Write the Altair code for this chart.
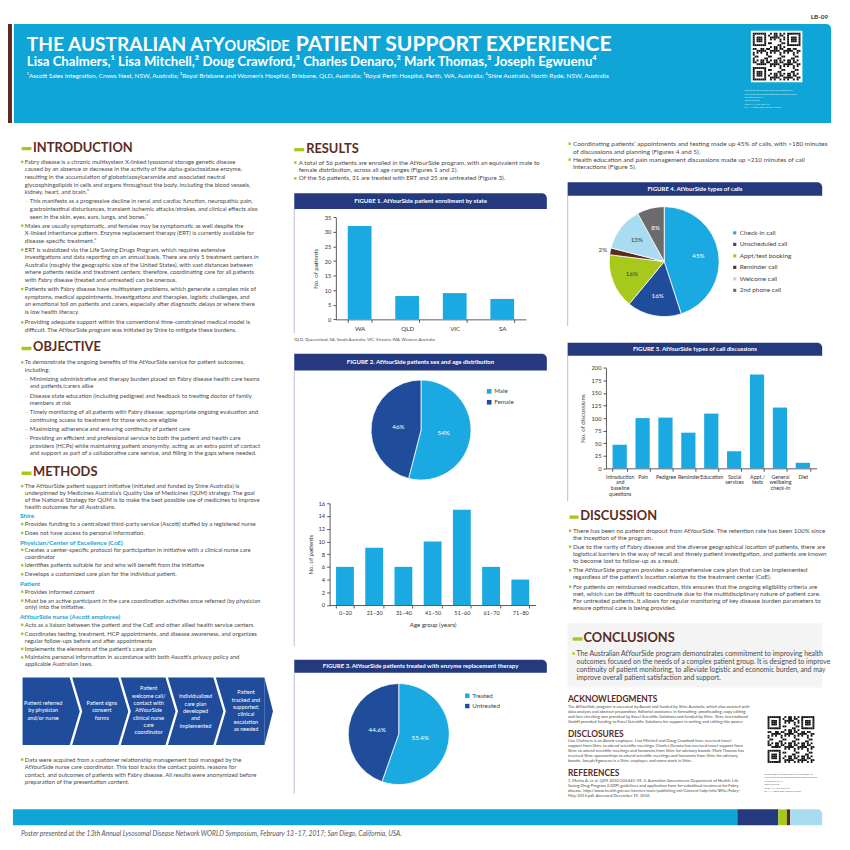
import altair as alt
import pandas as pd

# ---------------- chart values ----------------
states = ["WA", "QLD", "VIC", "SA"]
state_patients = [32, 8, 9, 7]

sexes = ["Male", "Female"]
sex_pct = [54, 46]

age_groups = ["0–20", "21–30", "31–40", "41–50", "51–60", "61–70", "71–80"]
age_patients = [6, 9, 6, 10, 15, 6, 4]

ert_status = ["Treated", "Untreated"]
ert_pct = [55.4, 44.6]

call_types = ["Check-in call", "Unscheduled call", "Appt/test booking",
              "Reminder call", "Welcome call", "2nd phone call"]
call_pct = [45, 16, 16, 2, 13, 8]

topics = ["Introduction and baseline questions", "Pain", "Pedigree", "Reminder",
          "Education", "Social services", "Appt./tests", "General wellbeing check-in", "Diet"]
topic_counts = [47, 100, 101, 71, 109, 34, 187, 121, 11]
topic_label_lines = [["Introduction", "and", "baseline", "questions"], ["Pain"], ["Pedigree"],
                     ["Reminder"], ["Education"], ["Social", "services"], ["Appt./", "tests"],
                     ["General", "wellbeing", "check-in"], ["Diet"]]

# ---------------- palette / fonts ----------------
BANNER = "#0fa6d7"
NAVY = "#24397e"
DARKBLUE = "#1f4c9b"
LIGHTBLUE = "#1ba9e1"
PALEBLUE = "#a9dbf1"
GREEN = "#a6c91b"
BROWN = "#5b2b22"
GREY = "#6b6b6d"
TEXT = "#4a4a4a"
SUBHEAD = "#199fd6"
AXIS = "#333333"
FONT = "Lato"

W = 842


def sx():
    return alt.Scale(domain=[0, 850], range=[-8, 842], nice=False, zero=False)


def X(f="x"):
    return alt.X(f + ":Q", scale=sx(), axis=None)


def Y(f="y"):
    return alt.Y(f + ":Q", scale=sx(), axis=None)


layers = []

# ---------------- rectangles ----------------
rects = [
    (0, 12, 20, 120, BROWN),
    (573, 830, 625, 690, "#f4f4f4"),
    (22.7, 267, 680, 748, DARKBLUE),
    (13, 744.3, 813, 829, BANNER),
    (744.3, 785.7, 813, 829, NAVY),
    (785.7, 794.3, 813, 829, GREEN),
    (794.3, 797.7, 813, 829, BROWN),
]
heads = [(21.7, 31.7, 145), (21.7, 31.7, 346.7), (21.7, 31.7, 472.7),
         (297, 307, 146), (575, 584, 517), (578, 588, 640)]
for a, b, hy in heads:
    rects.append((a, b, hy - 0.7, hy + 2.7, GREEN))
rdf = pd.DataFrame(rects, columns=["x", "x2", "y", "y2", "c"])
layers.append(alt.Chart(rdf).mark_rect().encode(
    x=X(), x2="x2:Q", y=Y(), y2="y2:Q", color=alt.Color("c:N", scale=None)))

rounded = pd.DataFrame([
    (14, 839, 20, 120, BANNER),
    (297, 552, 191, 207, NAVY), (297, 552, 353, 370, NAVY), (297, 552, 662, 675, NAVY),
    (573, 830, 180, 193.5, NAVY), (573, 830, 342, 355, NAVY),
    (797.7, 830, 813, 829, PALEBLUE),
], columns=["x", "x2", "y", "y2", "c"])
layers.append(alt.Chart(rounded).mark_rect(cornerRadiusTopRight=5).encode(
    x=X(), x2="x2:Q", y=Y(), y2="y2:Q", color=alt.Color("c:N", scale=None)))

# panel borders
borders = pd.DataFrame([(297, 207, 332), (297, 370, 648), (297, 675, 797),
                        (573, 193.5, 325), (573, 355, 502)], columns=["x", "y", "y2"])
layers.append(alt.Chart(borders).mark_rule(color="#c3cade", strokeWidth=1.2).encode(
    x=X(), y=Y(), y2="y2:Q"))

# chevron flow chart tip and separators
tip = pd.DataFrame({"x": [266.9, 275.5], "y": [680, 714], "y2": [748, 714]})
layers.append(alt.Chart(tip).mark_area(color=DARKBLUE).encode(x=X(), y=Y(), y2="y2:Q"))
seps = []
for i, xs in enumerate([71, 120, 167.7, 216]):
    seps += [dict(x=xs, y=678, g=i, k=0), dict(x=xs + 10.7, y=714, g=i, k=1),
             dict(x=xs, y=750, g=i, k=2)]
layers.append(alt.Chart(pd.DataFrame(seps)).mark_line(color="white", strokeWidth=2.4).encode(
    x=X(), y=Y(), detail="g:N", order="k:Q"))


# ---------------- QR codes (decorative) ----------------
def qr(x0, y0, size, n=25):
    m = size / (n + 2)
    cells = []

    def finder(r0, c0):
        for r in range(7):
            for c in range(7):
                if r in (0, 6) or c in (0, 6) or (2 <= r <= 4 and 2 <= c <= 4):
                    cells.append((r0 + r, c0 + c))
    finder(0, 0); finder(0, n - 7); finder(n - 7, 0)
    for r in range(n):
        for c in range(n):
            inf = (r < 8 and c < 8) or (r < 8 and c >= n - 8) or (r >= n - 8 and c < 8)
            if not inf and ((r * r + 3 * c + r * c + c * c * 2) % 7) < 3:
                cells.append((r, c))
    rows = [dict(x=x0 + (c + 1) * m, x2=x0 + (c + 2) * m, y=y0 + (r + 1) * m, y2=y0 + (r + 2) * m)
            for r, c in cells]
    bg = pd.DataFrame([dict(x=x0, x2=x0 + size, y=y0, y2=y0 + size)])
    return [alt.Chart(bg).mark_rect(color="white").encode(x=X(), x2="x2:Q", y=Y(), y2="y2:Q"),
            alt.Chart(pd.DataFrame(rows)).mark_rect(color="#111").encode(
                x=X(), x2="x2:Q", y=Y(), y2="y2:Q")]


layers += qr(758, 27, 52)
layers += qr(773, 717, 51)


# ---------------- text helpers ----------------
def text_layer(rows, size, color=TEXT, weight="normal", align="left", style="normal", font=FONT,
               baseline="middle"):
    df = pd.DataFrame(rows)
    return alt.Chart(df).mark_text(fontSize=size, color=color, fontWeight=weight, align=align,
                                   fontStyle=style, font=font, baseline=baseline).encode(
        x=X(), y=Y(), text="t:N")


def rows_of(x, y, lines, lh):
    return [dict(x=x, y=y + i * lh, t=s) for i, s in enumerate(lines)]


body = {}
bullets, dashes = [], []


def bullet(xb, xt, y, lines, lh, sub=False, fs=6.0):
    body.setdefault(fs, []).extend(rows_of(xt, y, lines, lh))
    (dashes if sub else bullets).append(dict(x=xb, y=y, t="–"))


# INTRODUCTION
L = 7.67
bullet(22.3, 25, 159.3, [
    "Fabry disease is a chronic multisystem X-linked lysosomal storage genetic disease",
    "caused by an absence or decrease in the activity of the alpha-galactosidase enzyme,",
    "resulting in the accumulation of globotriaosylceramide and associated neutral",
    "glycosphingolipids in cells and organs throughout the body, including the blood vessels,",
    "kidney, heart, and brain.¹"], L)
bullet(27, 30, 199.3, [
    "This manifests as a progressive decline in renal and cardiac function, neuropathic pain,",
    "gastrointestinal disturbances, transient ischemic attacks/strokes, and clinical effects also",
    "seen in the skin, eyes, ears, lungs, and bones.¹"], L, sub=True)
bullet(22.3, 25, 223.7, [
    "Males are usually symptomatic, and females may be symptomatic as well despite the",
    "X-linked inheritance pattern. Enzyme replacement therapy (ERT) is currently available for",
    "disease-specific treatment.²"], L)
bullet(22.3, 25, 248, [
    "ERT is subsidized via the Life Saving Drugs Program, which requires extensive",
    "investigations and data reporting on an annual basis. There are only 5 treatment centers in",
    "Australia (roughly the geographic size of the United States), with vast distances between",
    "where patients reside and treatment centers; therefore, coordinating care for all patients",
    "with Fabry disease (treated and untreated) can be onerous."], L)
bullet(22.3, 25, 287.7, [
    "Patients with Fabry disease have multisystem problems, which generate a complex mix of",
    "symptoms, medical appointments, investigations and therapies, logistic challenges, and",
    "an emotional toll on patients and carers, especially after diagnostic delays or where there",
    "is low health literacy."], L)
bullet(22.3, 25, 321.3, [
    "Providing adequate support within the conventional time-constrained medical model is",
    "difficult. The AtYourSide program was initiated by Shire to mitigate these burdens."], L)

# OBJECTIVE
L = 7.5
bullet(22.3, 25, 361.7, [
    "To demonstrate the ongoing benefits of the AtYourSide service for patient outcomes,",
    "including:"], L)
bullet(27, 30, 378.5, [
    "Minimizing administrative and therapy burden placed on Fabry disease health care teams",
    "and patients/carers alike"], L, sub=True)
bullet(27, 30, 395.3, [
    "Disease state education (including pedigree) and feedback to treating doctor of family",
    "members at risk"], L, sub=True)
bullet(27, 30, 412.1, [
    "Timely monitoring of all patients with Fabry disease; appropriate ongoing evaluation and",
    "continuing access to treatment for those who are eligible"], L, sub=True)
bullet(27, 30, 428.9, ["Maximizing adherence and ensuring continuity of patient care"], L, sub=True)
bullet(27, 30, 438.2, [
    "Providing an efficient and professional service to both the patient and health care",
    "providers (HCPs) while maintaining patient anonymity, acting as an extra point of contact",
    "and support as part of a collaborative care service, and filling in the gaps where needed."],
    L, sub=True)

# METHODS
L = 6.9
bullet(22.3, 25, 486.7, [
    "The AtYourSide patient support initiative (initiated and funded by Shire Australia) is",
    "underpinned by Medicines Australia’s Quality Use of Medicines (QUM) strategy. The goal",
    "of the National Strategy for QUM is to make the best possible use of medicines to improve",
    "health outcomes for all Australians."], L)
subheads = [dict(x=20, y=517.3, t="Shire"),
            dict(x=20, y=544, t="Physician/Center of Excellence (CoE)"),
            dict(x=20, y=585.7, t="Patient"),
            dict(x=20, y=619, t="AtYourSide nurse (Ascott employee)")]
bullet(22.3, 25, 525, ["Provides funding to a centralized third-party service (Ascott) staffed by a registered nurse"], L)
bullet(22.3, 25, 534, ["Does not have access to personal information."], L)
bullet(22.3, 25, 551, ["Creates a center-specific protocol for participation in initiative with a clinical nurse care",
                       "coordinator"], L)
bullet(22.3, 25, 566.7, ["Identifies patients suitable for and who will benefit from the initiative"], L)
bullet(22.3, 25, 575.7, ["Develops a customized care plan for the individual patient."], L)
bullet(22.3, 25, 593.3, ["Provides informed consent"], L)
bullet(22.3, 25, 602.3, ["Must be an active participant in the care coordination activities once referred (by physician",
                         "only) into the initiative."], L)
bullet(22.3, 25, 626.7, ["Acts as a liaison between the patient and the CoE and other allied health service centers"], L)
bullet(22.3, 25, 635.7, ["Coordinates testing, treatment, HCP appointments, and disease awareness, and organizes",
                         "regular follow-ups before and after appointments"], L)
bullet(22.3, 25, 651, ["Implements the elements of the patient’s care plan"], L)
bullet(22.3, 25, 659.7, ["Maintains personal information in accordance with both Ascott’s privacy policy and",
                         "applicable Australian laws."], L)
bullet(22.3, 25, 762.7, [
    "Data were acquired from a customer relationship management tool managed by the",
    "AtYourSide nurse care coordinator. This tool tracks the contact points, reasons for",
    "contact, and outcomes of patients with Fabry disease. All results were anonymized before",
    "preparation of the presentation content."], 7.6)

# RESULTS
bullet(298, 301.5, 160, [
    "A total of 56 patients are enrolled in the AtYourSide program, with an equivalent male to",
    "female distribution, across all age ranges (Figures 1 and 2)."], 8, fs=6.35)
bullet(298, 301.5, 176, ["Of the 56 patients, 31 are treated with ERT and 25 are untreated (Figure 3)."], 8, fs=6.35)
bullet(575, 578.3, 141, [
    "Coordinating patients’ appointments and testing made up 45% of calls, with >180 minutes",
    "of discussions and planning (Figures 4 and 5)."], 8, fs=6.55)
bullet(575, 578.3, 157, [
    "Health education and pain management discussions made up >210 minutes of call",
    "interactions (Figure 5)."], 8, fs=6.55)

# DISCUSSION
L = 7.2
bullet(575.5, 578.3, 531.7, [
    "There has been no patient dropout from AtYourSide. The retention rate has been 100% since",
    "the inception of the program."], L, fs=6.3)
bullet(575.5, 578.3, 547.7, [
    "Due to the rarity of Fabry disease and the diverse geographical location of patients, there are",
    "logistical barriers in the way of recall and timely patient investigation, and patients are known",
    "to become lost to follow-up as a result."], L, fs=6.3)
bullet(575.5, 578.3, 571.7, [
    "The AtYourSide program provides a comprehensive care plan that can be implemented",
    "regardless of the patient’s location relative to the treatment center (CoE)."], L, fs=6.3)
bullet(575.5, 578.3, 588.3, [
    "For patients on reimbursed medication, this ensures that the ongoing eligibility criteria are",
    "met, which can be difficult to coordinate due to the multidisciplinary nature of patient care.",
    "For untreated patients, it allows for regular monitoring of key disease burden parameters to",
    "ensure optimal care is being provided."], L, fs=6.3)

# CONCLUSIONS
bullet(579, 582, 655.7, [
    "The Australian AtYourSide program demonstrates commitment to improving health",
    "outcomes focused on the needs of a complex patient group. It is designed to improve",
    "continuity of patient monitoring, to alleviate logistic and economic burden, and may",
    "improve overall patient satisfaction and support."], 8.1, fs=6.9)

for fs, rws in body.items():
    layers.append(text_layer(rws, fs))
layers.append(alt.Chart(pd.DataFrame(bullets)).mark_square(size=6, color=GREEN, opacity=1).encode(x=X(), y=Y()))
layers.append(text_layer(dashes, 6.0, color=GREEN, align="center"))
layers.append(text_layer(subheads, 6.4, color=SUBHEAD, weight="bold"))

# section headings
layers.append(text_layer([
    dict(x=33.3, y=145, t="INTRODUCTION"), dict(x=33.3, y=346.7, t="OBJECTIVE"),
    dict(x=33.3, y=472.7, t="METHODS"), dict(x=309, y=146, t="RESULTS"),
    dict(x=585.7, y=517, t="DISCUSSION"), dict(x=589, y=640, t="CONCLUSIONS")],
    13, color=BROWN, weight="bold"))
layers.append(text_layer([
    dict(x=573.3, y=701.7, t="ACKNOWLEDGMENTS"), dict(x=573.3, y=736.7, t="DISCLOSURES"),
    dict(x=573.3, y=776, t="REFERENCES")], 8.5, color=BROWN, weight="bold"))

small = []
small += rows_of(573.3, 709.3, [
    "The AtYourSide program is executed by Ascott and funded by Shire Australia, which also assisted with",
    "data analysis and abstract preparation. Editorial assistance in formatting, proofreading, copy editing,",
    "and fact-checking was provided by Excel Scientific Solutions and funded by Shire. Shire International",
    "GmbH provided funding to Excel Scientific Solutions for support in writing and editing this poster."], 5.1)
small += rows_of(573.3, 744, [
    "Lisa Chalmers is an Ascott employee. Lisa Mitchell and Doug Crawford have received travel",
    "support from Shire to attend scientific meetings. Charles Denaro has received travel support from",
    "Shire to attend scientific meetings and honoraria from Shire for advisory boards. Mark Thomas has",
    "received Shire sponsorships to attend scientific meetings and honoraria from Shire for advisory",
    "boards. Joseph Egwuenu is a Shire employee and owns stock in Shire."], 5.1)
small += rows_of(573.3, 784, [
    "1. Mehta A, et al. QJM 2010;103:641-59.  2. Australian Government Department of Health. Life",
    "Saving Drug Program (LSDP) guidelines and application form for subsidised treatment for Fabry",
    "disease. http://www.health.gov.au/internet/main/publishing.nsf/Content/lsdp-info/$File/Fabry-",
    "May-2015.pdf. Accessed December 19, 2016."], 5.2)
layers.append(text_layer(small, 4.15))

# figure titles
layers.append(text_layer([
    dict(x=424.5, y=199, t="FIGURE 1. AtYourSide patient enrollment by state"),
    dict(x=424.5, y=361.5, t="FIGURE 2. AtYourSide patients sex and age distribution"),
    dict(x=424.5, y=668.5, t="FIGURE 3. AtYourSide patients treated with enzyme replacement therapy"),
    dict(x=701.5, y=187, t="FIGURE 4. AtYourSide types of calls"),
    dict(x=701.5, y=348.5, t="FIGURE 5. AtYourSide types of call discussions")],
    6.1, color="white", weight="bold", align="center"))
layers.append(text_layer([dict(x=297, y=339, t="QLD, Queensland; SA, South Australia; VIC, Victoria; WA, Western Australia.")],
                         4.3))

# chevron texts
chev = []
chev += rows_of(43.5, 705.7, ["Patient referred", "by physician", "and/or nurse"], 7.4)
chev += rows_of(102.7, 705.7, ["Patient signs", "consent", "forms"], 7.4)
chev += rows_of(150, 691, ["Patient", "welcome call/", "contact with", "AtYourSide", "clinical nurse",
                           "care", "coordinator"], 7.4)
chev += rows_of(197.3, 699, ["Individualized", "care plan", "developed", "and", "implemented"], 7.4)
chev += rows_of(248.3, 695, ["Patient", "tracked and", "supported;", "clinical", "escalation", "as needed"], 7.4)
layers.append(text_layer(chev, 5.6, color="white", align="center"))

# header title (AtYourSide in small caps)
TB = 47.5
layers.append(text_layer([dict(x=27, y=TB, t="THE AUSTRALIAN")], 19.3, color="white", weight="bold",
                         baseline="alphabetic"))
big_caps = [dict(x=192, y=TB, t="A"), dict(x=214.1, y=TB, t="Y"), dict(x=257.7, y=TB, t="S")]
small_caps = [dict(x=205.3, y=TB, t="T"), dict(x=226.7, y=TB, t="OUR"), dict(x=268.4, y=TB, t="IDE")]
layers.append(text_layer(big_caps, 19.5, color="white", weight="bold", baseline="alphabetic"))
layers.append(text_layer(small_caps, 14.6, color="white", weight="bold", baseline="alphabetic"))
layers.append(text_layer([dict(x=298.5, y=TB, t="PATIENT SUPPORT EXPERIENCE")], 21.3, color="white",
                         weight="bold", align="left", baseline="alphabetic"))
layers.append(text_layer([dict(x=27, y=58.5,
                               t="Lisa Chalmers,¹ Lisa Mitchell,² Doug Crawford,³ Charles Denaro,² Mark Thomas,³ Joseph Egwuenu⁴")],
                         13.3, color="white", weight="bold"))
layers.append(text_layer([dict(x=27, y=72.5,
                               t="¹Ascott Sales Integration, Crows Nest, NSW, Australia; ²Royal Brisbane and Women’s Hospital, Brisbane, QLD, Australia; ³Royal Perth Hospital, Perth, WA, Australia; ⁴Shire Australia, North Ryde, NSW, Australia")],
                         6.5, color="white"))
layers.append(text_layer([dict(x=836, y=13, t="LB-09")], 6.5, color="#333", weight="bold", align="right"))
qrtxt = rows_of(751.5, 87, ["Scan code to receive PDF file of poster or",
                            "visit www.shirecongressposters.com/717799",
                            "or send an SMS", "Text 717799", "to 8NNN (US only) or",
                            "to +44 7860 033 (rest of world)"], 3.4)
layers.append(text_layer(qrtxt, 2.7, color="#d8f0fa"))
qrtxt2 = rows_of(771.7, 777, ["Scan code to receive PDF file of poster or",
                              "visit www.shirecongressposters.com/717799",
                              "or send an SMS", "Text 717799", "to 8NNN (US only) or",
                              "to +44 7860 033 (rest of world)"], 3.5)
layers.append(text_layer(qrtxt2, 2.7, color="#666"))
layers.append(text_layer([dict(x=21, y=837.5,
                               t="Poster presented at the 13th Annual Lysosomal Disease Network WORLD Symposium, February 13–17, 2017; San Diego, California, USA.")],
                         6.75, color="#555", style="italic"))

# ---------------- charts ----------------
AX = dict(labelFont=FONT, labelColor=AXIS, domainColor=AXIS, tickColor=AXIS, domainWidth=0.8,
          tickWidth=0.8, tickSize=3, grid=False, titleFont=FONT, titleColor=AXIS,
          titleFontWeight="normal")

# Figure 1
f1 = pd.DataFrame({"state": states, "patients": state_patients})
layers.append(alt.Chart(f1).mark_bar(color=LIGHTBLUE).encode(
    x=alt.X("state:N", sort=states,
            scale=alt.Scale(range=[331, 523], paddingInner=0.5, paddingOuter=0.25),
            axis=alt.Axis(title=None, orient="bottom", offset=310.3 - W, labelAngle=0,
                          tickBand="extent", labelFontSize=6.3, labelPadding=3, **AX)),
    y=alt.Y("patients:Q", scale=alt.Scale(domain=[0, 35], range=[310.3, 207.3], nice=False),
            axis=alt.Axis(title="No. of patients", orient="left", offset=-331,
                          values=list(range(0, 36, 5)), labelFontSize=5.8, titleFontSize=6.2,
                          titlePadding=6, **AX))))


def pie(df, cat, val, cats, colors, cx, cy, r, fmt, lr, dark_labels=(), out_label=None, out_r=None):
    base = alt.Chart(df)
    th = alt.Theta(val + ":Q", stack=True, scale=alt.Scale(domain=[0, 100]))
    arc = base.mark_arc(outerRadius=r, stroke="white", strokeWidth=0.8).encode(
        theta=th,
        color=alt.Color(cat + ":N", scale=alt.Scale(domain=cats, range=colors), legend=None),
        order=alt.Order("k:Q"), x=alt.value(cx - 8), y=alt.value(cy - 8))
    enc = dict(theta=th, order=alt.Order("k:Q"), text="lbl:N", x=alt.value(cx - 8), y=alt.value(cy - 8))
    if dark_labels:
        enc["color"] = alt.condition(alt.FieldOneOfPredicate(field=cat, oneOf=list(dark_labels)),
                                     alt.value("#3a3a3a"), alt.value("white"))
    fmt_expr = f"format(datum.{val}, '{fmt}') + '%'"
    out = []
    if out_label:
        inner = base.transform_calculate(lbl=f"datum.{cat} == '{out_label}' ? '' : {fmt_expr}")
        outer = base.transform_calculate(lbl=f"datum.{cat} == '{out_label}' ? {fmt_expr} : ''")
        out.append(outer.mark_text(radius=out_r, color="white", fontSize=6.3, font=FONT).encode(**enc))
    else:
        inner = base.transform_calculate(lbl=fmt_expr)
    out.insert(0, inner.mark_text(radius=lr, color="white", fontSize=6.3, font=FONT).encode(**enc))
    return [arc] + out


def legend(cats, colors, x, y0, y1, size, fs=6.3, gap=5):
    d = pd.DataFrame({"c": cats})
    ysc = alt.Y("c:N", sort=cats, scale=alt.Scale(type="point", range=[y0 - 8, y1 - 8], padding=0), axis=None)
    sq = alt.Chart(d).mark_square(size=size, opacity=1).encode(
        x=alt.value(x - 8), y=ysc,
        color=alt.Color("c:N", scale=alt.Scale(domain=cats, range=colors), legend=None))
    tx = alt.Chart(d).mark_text(align="left", fontSize=fs, font=FONT, color="#444").encode(
        x=alt.value(x - 8 + gap), y=ysc, text="c:N")
    return [sq, tx]


# Figure 2
f2 = pd.DataFrame({"sex": sexes, "pct": sex_pct, "k": range(len(sexes))})
layers += pie(f2, "sex", "pct", sexes, [LIGHTBLUE, DARKBLUE], 425, 430, 50.5, ".0f", 23)
layers += legend(sexes, [LIGHTBLUE, DARKBLUE], 493.8, 391, 402, 22)

f2b = pd.DataFrame({"age": age_groups, "patients": age_patients})
layers.append(alt.Chart(f2b).mark_bar(color=LIGHTBLUE).encode(
    x=alt.X("age:N", sort=age_groups,
            scale=alt.Scale(range=[324.7, 532.7], paddingInner=0.39, paddingOuter=0.22),
            axis=alt.Axis(title="Age group (years)", orient="bottom", offset=598.7 - W, labelAngle=0,
                          tickBand="extent", labelFontSize=5.6, titleFontSize=6.2, titlePadding=5,
                          labelPadding=3, **AX)),
    y=alt.Y("patients:Q", scale=alt.Scale(domain=[0, 16], range=[598.7, 496], nice=False),
            axis=alt.Axis(title="No. of patients", orient="left", offset=-324.7,
                          values=list(range(0, 17, 2)), labelFontSize=5.8, titleFontSize=6.2,
                          titlePadding=5, **AX))))

# Figure 3
f3 = pd.DataFrame({"status": ert_status, "pct": ert_pct, "k": range(len(ert_status))})
layers += pie(f3, "status", "pct", ert_status, [LIGHTBLUE, DARKBLUE], 402.5, 737, 51, ".1f", 22)
layers += legend(ert_status, [LIGHTBLUE, DARKBLUE], 471.7, 698.3, 708.7, 20)

# Figure 4
call_colors = [LIGHTBLUE, DARKBLUE, GREEN, BROWN, PALEBLUE, GREY]
f4 = pd.DataFrame({"type": call_types, "pct": call_pct, "k": range(len(call_types))})
layers += pie(f4, "type", "pct", call_types, call_colors, 670.5, 260, 55.5, ".0f", 35,
              dark_labels=("Appt/test booking", "Reminder call", "Welcome call"),
              out_label="Reminder call", out_r=63)
layers += legend(call_types, call_colors, 741.7, 231, 289, 10, fs=6.5, gap=5)

# Figure 5
brk = "datum.label"
for name, parts in reversed(list(zip(topics, topic_label_lines))):
    arr = "[" + ",".join("'" + p + "'" for p in parts) + "]"
    brk = f"datum.label == '{name}' ? {arr} : ({brk})"
f5 = pd.DataFrame({"topic": topics, "n": topic_counts})
layers.append(alt.Chart(f5).mark_bar(color=LIGHTBLUE).encode(
    x=alt.X("topic:N", sort=topics,
            scale=alt.Scale(range=[603.7, 816.3], paddingInner=0.38, paddingOuter=0.29),
            axis=alt.Axis(title=None, orient="bottom", offset=460.7 - W, labelAngle=0,
                          tickBand="extent", labelFontSize=5.3, labelLineHeight=5.8,
                          labelExpr=brk, labelLimit=300, labelPadding=3, labelBaseline="top", **AX)),
    y=alt.Y("n:Q", scale=alt.Scale(domain=[0, 200], range=[460.7, 359.3], nice=False),
            axis=alt.Axis(title="No. of discussions", orient="left", offset=-603.7,
                          values=list(range(0, 201, 25)), labelFontSize=5.8, titleFontSize=6.2,
                          titlePadding=6, **AX))))

res = {c: "independent" for c in ["x", "y", "color", "theta", "radius"]}
chart = alt.layer(*layers).resolve_scale(**res).resolve_axis(x="independent", y="independent").properties(
    width=W, height=W, padding=0, autosize="none", background="white"
).configure_view(stroke=None)

chart.save("out.html", embed_options={"renderer": "svg", "actions": False})
